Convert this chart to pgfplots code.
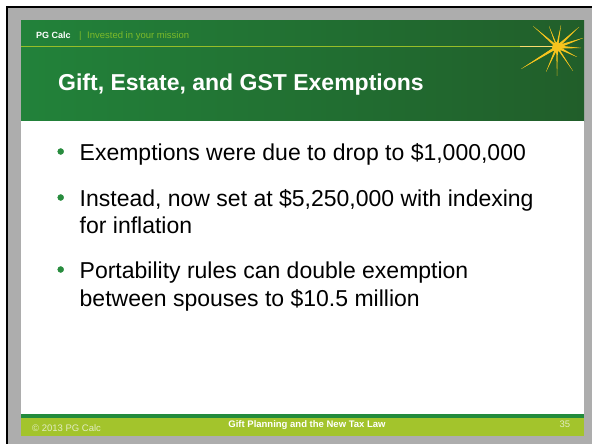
\documentclass[border=0pt]{standalone}
\usepackage{pgfplots}
\pgfplotsset{compat=1.18}
\usepackage{fontspec}
\setmainfont{Liberation Sans}
\definecolor{framegray}{RGB}{173,173,173}
\definecolor{hdrleft}{RGB}{34,130,58}
\definecolor{hdrright}{RGB}{33,94,42}
\definecolor{tagline}{RGB}{125,186,42}
\definecolor{rule}{RGB}{150,190,40}
\definecolor{bulletgreen}{RGB}{40,140,62}
\definecolor{footdark}{RGB}{34,139,60}
\definecolor{footlight}{RGB}{163,196,44}
\definecolor{footsoft}{RGB}{226,236,196}
\definecolor{staryellow}{RGB}{246,196,30}
\definecolor{startip}{RGB}{250,220,110}
\newcommand\ray[2]{%
  \fill[staryellow] (556,46.3) -- (#1,#2) -- (558,47.7) -- cycle;
  \fill[staryellow] (557,45.3) -- (#1,#2) -- (557,48.7) -- cycle;}
\begin{document}
\begin{tikzpicture}
\begin{axis}[
  width=592pt, height=444pt, scale only axis,
  hide axis, clip=false,
  xmin=0, xmax=592, ymin=0, ymax=444, y dir=reverse,
]
% background and frame
\fill[white] (0,0) rectangle (592,444);
\fill[black] (6,6) rectangle (592,444);
\fill[framegray] (8,8) rectangle (592,444);
% header
\shade[left color=hdrleft, right color=hdrright] (21,21) rectangle (584,121);
% content area
\fill[white] (21,121) rectangle (584,414);
% footer
\fill[footdark] (21,414) rectangle (584,418);
\fill[footlight] (21,418) rectangle (584,436);
% header rule
\draw[rule, line width=0.8pt] (21,46) -- (525,46);
\draw[startip, line width=1.2pt] (520,46.5) -- (557,46.5);
% star
\ray{533}{26}\ray{549}{26}\ray{561}{25}\ray{579}{27}\ray{583}{38}\ray{581}{48}
\ray{577}{57}\ray{573}{71}\ray{557}{76}\ray{546}{72}\ray{521}{69}
\fill[staryellow] (557,47) circle[radius=5];
% header texts
\node[anchor=base west, inner sep=0, text=white, font=\bfseries\fontsize{9}{10}\selectfont] at (36,38.3) {PG Calc};
\node[anchor=base west, inner sep=0, text=tagline, font=\fontsize{9.5}{10}\selectfont] at (79,38.3) {|};
\node[anchor=base west, inner sep=0, text=tagline, font=\fontsize{9.5}{10}\selectfont] at (87,38.3) {Invested in your mission};
\node[anchor=base west, inner sep=0, text=white, font=\bfseries\fontsize{23}{27}\selectfont] at (58,91) {Gift, Estate, and GST Exemptions};
% bullets
\addplot[only marks, mark=*, mark size=3pt, color=bulletgreen] coordinates {(60.7,151.5) (60.7,197.5) (60.7,269.5)};
\node[anchor=base west, inner sep=0, font=\fontsize{23}{27}\selectfont] at (79.5,160) {Exemptions were due to drop to \$1,000,000};
\node[anchor=base west, inner sep=0, font=\fontsize{23}{27}\selectfont] at (79.5,206) {Instead, now set at \$5,250,000 with indexing};
\node[anchor=base west, inner sep=0, font=\fontsize{23}{27}\selectfont] at (79.5,233) {for inflation};
\node[anchor=base west, inner sep=0, font=\fontsize{23}{27}\selectfont] at (79.5,278.5) {Portability rules can double exemption};
\node[anchor=base west, inner sep=0, font=\fontsize{23}{27}\selectfont] at (79.5,306) {between spouses to \$10.5 million};
% footer texts
\node[anchor=base west, inner sep=0, text=footsoft, font=\fontsize{9.5}{10}\selectfont] at (32,431.5) {© 2013 PG Calc};
\node[anchor=base, inner sep=0, text=white, font=\bfseries\fontsize{9.5}{10}\selectfont] at (307,427.3) {Gift Planning and the New Tax Law};
\node[anchor=base west, inner sep=0, text=footsoft, font=\fontsize{9.5}{10}\selectfont] at (559.5,427.3) {35};
\end{axis}
\end{tikzpicture}
\end{document}
